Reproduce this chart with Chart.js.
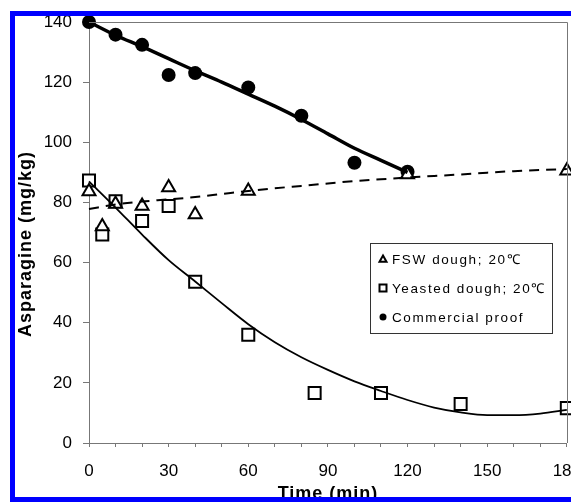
<!DOCTYPE html>
<html>
<head>
<meta charset="utf-8">
<script src="https://cdn.jsdelivr.net/npm/chart.js@4.4.1/dist/chart.umd.min.js"></script>
<style>
  html, body { margin: 0; padding: 0; background: #fff; overflow: hidden; }
  #wrap { width: 571px; height: 502px; position: relative; overflow: hidden; }
  #asnChart { display: block; }
</style>
</head>
<body>
<div id="wrap"><canvas id="asnChart" width="571" height="502"></canvas></div>
<script>
// measured points
const fswTime = [0, 5, 10, 20, 30, 40, 60, 120, 180];
const fswAsn = [83.6, 72, 79.5, 78.8, 85, 76, 83.8, 89.3, 90.5];
const yeastTime = [0, 5, 10, 20, 30, 40, 60, 85, 110, 140, 180];
const yeastAsn = [87.3, 69.3, 80.4, 73.8, 78.8, 53.6, 36, 16.6, 16.6, 13, 11.6];
const proofTime = [0, 10, 20, 30, 40, 60, 80, 100, 120];
const proofAsn = [140, 135.8, 132.4, 122.4, 123, 118.2, 108.8, 93.2, 90.2];

// fitted curves
const fitTime = [0, 10, 20, 30, 40, 50, 60, 70, 80, 90, 100, 110, 120, 130, 140, 150, 160, 170, 180];
const fswFit = [77.8, 79.3, 80.3, 81, 81.8, 82.8, 83.8, 84.7, 85.5, 86.3, 87.1, 87.7, 88.3, 88.8, 89.3, 89.9, 90.4, 90.8, 91.1];
const yeastFit = [87, 78.3, 69.3, 60.8, 53.7, 46.5, 39.5, 33.5, 28.5, 24.3, 20.5, 17.3, 14.3, 11.8, 10.2, 9.3, 9.3, 9.8, 11];
const proofFitTime = [0, 10, 20, 30, 40, 50, 60, 70, 80, 90, 100, 110, 120];
const proofFit = [140, 135.6, 131.8, 127.8, 123.8, 120, 116, 112, 107.6, 102.8, 98, 94, 90];

const yTicks = [0, 20, 40, 60, 80, 100, 120, 140];
const xLabels = [0, 30, 60, 90, 120, 150, 180];

const legendItems = [
    { label: 'FSW dough; 20\u2103', shape: 'triangle' },
    { label: 'Yeasted dough; 20\u2103', shape: 'square' },
    { label: 'Commercial proof', shape: 'circle' }
];

const toXY = (xs, ys) => xs.map((x, i) => ({ x: x, y: ys[i] }));

function drawShape(ctx, shape, x, y, s) {
    ctx.beginPath();
    if (shape === 'triangle') {
        ctx.moveTo(x, y - s);
        ctx.lineTo(x + s, y + s * 0.8);
        ctx.lineTo(x - s, y + s * 0.8);
        ctx.closePath();
        ctx.stroke();
    } else if (shape === 'square') {
        ctx.rect(x - s, y - s, 2 * s, 2 * s);
        ctx.stroke();
    } else {
        ctx.arc(x, y, s, 0, Math.PI * 2);
        ctx.fill();
    }
}

const extras = {
    id: 'extras',
    afterDraw(chart) {
        const ctx = chart.ctx;
        const a = chart.chartArea;
        ctx.save();

        // top and right frame lines
        ctx.strokeStyle = '#777';
        ctx.lineWidth = 1;
        ctx.beginPath();
        ctx.moveTo(a.left, Math.round(a.top) + 0.5);
        ctx.lineTo(Math.round(a.right) + 0.5, Math.round(a.top) + 0.5);
        ctx.lineTo(Math.round(a.right) + 0.5, a.bottom);
        ctx.stroke();

        // legend box
        ctx.fillStyle = '#fff';
        ctx.fillRect(370, 243, 183, 91);
        ctx.strokeStyle = '#333';
        ctx.strokeRect(370.5, 243.5, 182, 90);
        ctx.font = '13.5px "Liberation Sans", Arial, sans-serif';
        ctx.letterSpacing = '1.6px';
        ctx.textBaseline = 'middle';
        ctx.textAlign = 'left';
        legendItems.forEach((item, i) => {
            const y = 259 + i * 29;
            ctx.strokeStyle = '#000';
            ctx.fillStyle = '#000';
            ctx.lineWidth = 2;
            drawShape(ctx, item.shape, 383, y, 3.5);
            ctx.fillText(item.label, 392, y + 1);
        });

        // axis titles
        ctx.fillStyle = '#000';
        ctx.font = 'bold 18px "Liberation Sans", Arial, sans-serif';
        ctx.letterSpacing = '1px';
        ctx.textAlign = 'center';
        ctx.textBaseline = 'alphabetic';
        ctx.fillText('Time (min)', 328, 499);
        ctx.save();
        ctx.translate(31, 244);
        ctx.rotate(-Math.PI / 2);
        ctx.fillText('Asparagine (mg/kg)', 0, 0);
        ctx.restore();

        // blue frame
        ctx.strokeStyle = '#0000ff';
        ctx.lineWidth = 5;
        ctx.strokeRect(12.5, 13.5, 700, 486);
        ctx.restore();
    }
};

function makeChart(canvas) {
    return new Chart(canvas.getContext('2d'), {
        type: 'scatter',
        data: {
            datasets: [
                {
                    label: 'FSW fit',
                    data: toXY(fitTime, fswFit),
                    showLine: true,
                    borderColor: '#000',
                    borderWidth: 2,
                    borderDash: [10, 7],
                    pointRadius: 0,
                    cubicInterpolationMode: 'monotone',
                    clip: false
                },
                {
                    label: 'Yeasted fit',
                    data: toXY(fitTime, yeastFit),
                    showLine: true,
                    borderColor: '#000',
                    borderWidth: 1.8,
                    pointRadius: 0,
                    cubicInterpolationMode: 'monotone',
                    clip: false
                },
                {
                    label: 'Proof fit',
                    data: toXY(proofFitTime, proofFit),
                    showLine: true,
                    borderColor: '#000',
                    borderWidth: 3.5,
                    pointRadius: 0,
                    cubicInterpolationMode: 'monotone',
                    clip: false
                },
                {
                    label: 'FSW dough; 20\u2103',
                    data: toXY(fswTime, fswAsn),
                    pointStyle: 'triangle',
                    pointRadius: 7.5,
                    pointBorderWidth: 2,
                    pointBorderColor: '#000',
                    pointBackgroundColor: '#fff',
                    clip: false
                },
                {
                    label: 'Yeasted dough; 20\u2103',
                    data: toXY(yeastTime, yeastAsn),
                    pointStyle: 'rect',
                    pointRadius: 8.5,
                    pointBorderWidth: 2,
                    pointBorderColor: '#000',
                    pointBackgroundColor: '#fff',
                    clip: false
                },
                {
                    label: 'Commercial proof',
                    data: toXY(proofTime, proofAsn),
                    pointStyle: 'circle',
                    pointRadius: 7,
                    pointBorderWidth: 0,
                    pointBackgroundColor: '#000',
                    clip: false
                }
            ]
        },
        options: {
            responsive: false,
            animation: false,
            events: [],
            layout: { padding: { left: 0, right: 0, top: 22, bottom: 0 } },
            plugins: {
                legend: { display: false },
                tooltip: { enabled: false }
            },
            scales: {
                x: {
                    type: 'linear',
                    min: 0,
                    max: 180,
                    border: { display: true, color: '#777', width: 1 },
                    grid: { drawOnChartArea: false, drawTicks: true, tickLength: 4, color: '#777' },
                    ticks: {
                        stepSize: 10,
                        autoSkip: false,
                        maxRotation: 0,
                        padding: 14,
                        color: '#000',
                        font: { family: '"Liberation Sans", Arial, sans-serif', size: 17 },
                        callback: v => xLabels.includes(v) ? String(v) : ''
                    },
                    afterFit: s => { s.height = 59; }
                },
                y: {
                    type: 'linear',
                    min: yTicks[0],
                    max: yTicks[yTicks.length - 1],
                    border: { display: true, color: '#777', width: 1 },
                    grid: { drawOnChartArea: false, drawTicks: true, tickLength: 6, color: '#777' },
                    ticks: {
                        stepSize: 20,
                        padding: 11,
                        color: '#000',
                        font: { family: '"Liberation Sans", Arial, sans-serif', size: 17 }
                    },
                    afterFit: s => { s.width = 89; }
                }
            }
        },
        plugins: [extras]
    });
}

// the plot runs to the right edge, so the "180" label has to stick out past the window
const canvas = document.getElementById('asnChart');
let chart = makeChart(canvas);
const extraWidth = Math.round(567 - chart.chartArea.right);
if (extraWidth > 0) {
    chart.destroy();
    canvas.width = 571 + extraWidth;
    canvas.height = 502;
    canvas.style.width = (571 + extraWidth) + 'px';
    canvas.style.height = '502px';
    chart = makeChart(canvas);
}
</script>
</body>
</html>
